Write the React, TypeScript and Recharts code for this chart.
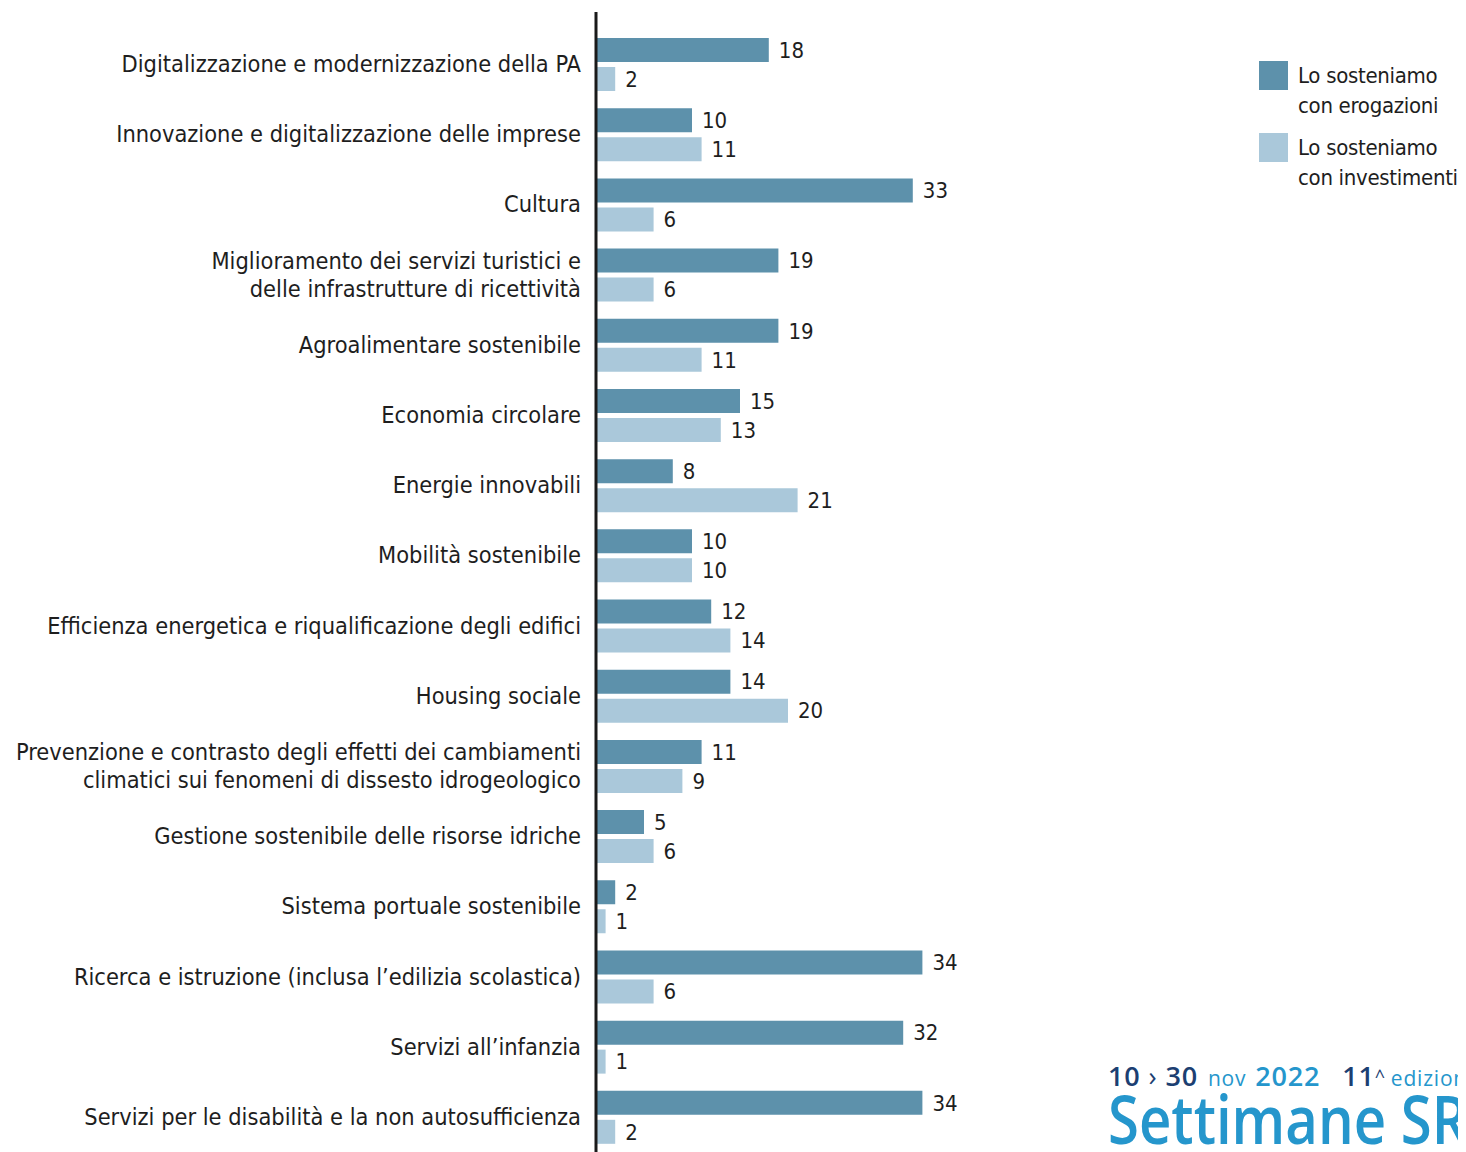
import React from 'react'
import { BarChart, Bar, XAxis, YAxis, LabelList } from 'recharts'

const categories = [
  'Digitalizzazione e modernizzazione della PA',
  'Innovazione e digitalizzazione delle imprese',
  'Cultura',
  'Miglioramento dei servizi turistici e\ndelle infrastrutture di ricettività',
  'Agroalimentare sostenibile',
  'Economia circolare',
  'Energie innovabili',
  'Mobilità sostenibile',
  'Efficienza energetica e riqualificazione degli edifici',
  'Housing sociale',
  'Prevenzione e contrasto degli effetti dei cambiamenti\nclimatici sui fenomeni di dissesto idrogeologico',
  'Gestione sostenibile delle risorse idriche',
  'Sistema portuale sostenibile',
  'Ricerca e istruzione (inclusa l’edilizia scolastica)',
  'Servizi all’infanzia',
  'Servizi per le disabilità e la non autosufficienza',
]

const erogazioni = [18, 10, 33, 19, 19, 15, 8, 10, 12, 14, 11, 5, 2, 34, 32, 34]
const investimenti = [2, 11, 6, 6, 11, 13, 21, 10, 14, 20, 9, 6, 1, 6, 1, 2]

const seriesNames = ['Lo sosteniamo\ncon erogazioni', 'Lo sosteniamo\ncon investimenti']

const data = categories.map((name, i) => ({
  name,
  erogazioni: erogazioni[i],
  investimenti: investimenti[i],
}))

const DARK = '#5d91ab'
const LIGHT = '#aac8da'
const TEXT = '#1e1e1e'
const NAVY = '#1c3f72'
const BLUE = '#2596cc'
const FONT = '"DejaVu Sans Condensed", "DejaVu Sans", sans-serif'
const condensed = { fontStretch: 'condensed' as const }

const CategoryTick = (props: any) => {
  const { y, payload } = props
  const lines = String(payload.value).split('\n')
  const lh = 28
  const startDy = -((lines.length - 1) * lh) / 2
  return (
    <text
      x={573}
      y={y}
      textAnchor="end"
      fill={TEXT}
      fontSize={23.4}
      fontFamily={FONT}
      style={condensed}
      dominantBaseline="central"
    >
      {lines.map((l, i) => (
        <tspan key={i} x={573} dy={i === 0 ? startDy : lh}>
          {l}
        </tspan>
      ))}
    </text>
  )
}

export default function App() {
  return (
    <div style={{ position: 'relative', width: 1458, height: 1144, overflow: 'hidden' }}>
      <BarChart
        width={1458}
        height={1144}
        data={data}
        layout="vertical"
        margin={{ top: 4, right: 486, bottom: 0, left: 0 }}
        barSize={24}
        barGap={5}
      >
        <XAxis type="number" domain={[0, 40]} hide />
        <YAxis
          type="category"
          dataKey="name"
          width={588}
          padding={{ top: 17, bottom: 0 }}
          axisLine={{ stroke: '#1a1a1a', strokeWidth: 3 }}
          tickLine={false}
          tick={<CategoryTick />}
          interval={0}
        />
        <Bar dataKey="erogazioni" fill={DARK} isAnimationActive={false}>
          <LabelList
            dataKey="erogazioni"
            position="right"
            offset={10}
            fill={TEXT}
            fontSize={22}
            fontFamily={FONT}
            style={condensed}
          />
        </Bar>
        <Bar dataKey="investimenti" fill={LIGHT} isAnimationActive={false}>
          <LabelList
            dataKey="investimenti"
            position="right"
            offset={10}
            fill={TEXT}
            fontSize={22}
            fontFamily={FONT}
            style={condensed}
          />
        </Bar>
      </BarChart>

      {/* legend */}
      <div
        style={{
          position: 'absolute',
          left: 1251,
          top: 53,
          width: 207,
          fontFamily: FONT,
          fontStretch: 'condensed',
          color: TEXT,
          fontSize: 22,
          lineHeight: '30px',
          letterSpacing: -0.3,
        }}
      >
        {[DARK, LIGHT].map((c, i) => (
          <div key={i} style={{ display: 'flex', alignItems: 'flex-start', marginBottom: 12 }}>
            <div style={{ width: 29, height: 29, background: c, flexShrink: 0, marginRight: 10 }} />
            <div style={{ whiteSpace: 'pre' }}>{seriesNames[i]}</div>
          </div>
        ))}
      </div>

      {/* logo */}
      <div
        style={{
          position: 'absolute',
          left: 1100,
          top: 1052,
          width: 400,
          whiteSpace: 'nowrap',
          fontFamily: '"Open Sans", Lato, sans-serif',
          color: BLUE,
        }}
      >
        <div style={{ fontSize: 27, lineHeight: '32px', fontWeight: 600, height: 32, letterSpacing: 0.8 }}>
          <span style={{ color: NAVY }}>10</span>
          <span style={{ color: NAVY, marginLeft: 8, fontWeight: 400 }}>›</span>
          <span style={{ color: NAVY, marginLeft: 8 }}>30</span>
          <span style={{ fontWeight: 400, fontSize: 21, marginLeft: 10 }}>nov</span>
          <span style={{ marginLeft: 9 }}>2022</span>
          <span style={{ color: NAVY, marginLeft: 22 }}>11</span>
          <span style={{ color: NAVY, fontWeight: 400, fontSize: 18, verticalAlign: 'top' }}>^</span>
          <span style={{ fontWeight: 400, fontSize: 21, marginLeft: 5 }}>edizione</span>
        </div>
        <div
          style={{
            position: 'absolute',
            left: 0,
            top: 25,
            fontSize: 67,
            lineHeight: '67px',
            fontWeight: 600,
            transform: 'scaleX(0.84)',
            transformOrigin: 'left top',
          }}
        >
          Settimane SRI
        </div>
      </div>
    </div>
  )
}
